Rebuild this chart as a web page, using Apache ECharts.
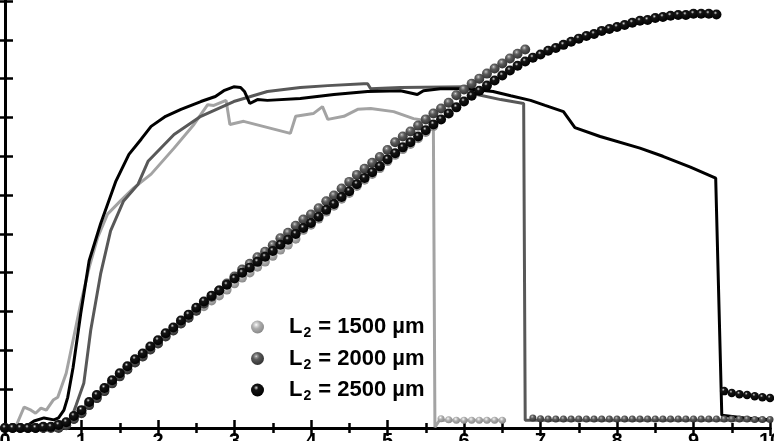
<!DOCTYPE html>
<html>
<head>
<meta charset="utf-8">
<script src="https://cdn.jsdelivr.net/npm/echarts@6/dist/echarts.min.js"></script>
<style>
  html, body { margin: 0; padding: 0; background: #fff; }
  #chart { width: 774px; height: 441px; }
</style>
</head>
<body>
<div id="chart"></div>
<script>
// x ticks and y range (y labels are cropped off in the reference)
const xTicks = [0, 1, 2, 3, 4, 5, 6, 7, 8, 9, 10];
const yMax = 11;

// spheres, sampled every 0.1 along x starting at 0
const sphereStep = 0.1;
const spheres1500 = [
  0, 0, 0, 0, 0, 0.03, 0.03, 0.08, 0.15, 0.23,
  0.38, 0.59, 0.77, 0.95, 1.15, 1.33, 1.51, 1.69, 1.84, 2.02,
  2.18, 2.36, 2.51, 2.69, 2.84, 3.02, 3.13, 3.28, 3.41, 3.56,
  3.72, 3.87, 4.00, 4.15, 4.28, 4.43, 4.59, 4.72, 4.87, 5.10,
  5.23, 5.39, 5.57, 5.72, 5.90, 6.05, 6.23, 6.39, 6.54, 6.69,
  6.87, 7.03, 7.18, 7.31, 7.46, 7.62, 7.77
];
const spheres2000 = [
  0, 0, 0, 0, 0, 0, 0, 0, 0.07, 0.23,
  0.38, 0.59, 0.77, 0.95, 1.15, 1.33, 1.51, 1.69, 1.84, 2.02,
  2.18, 2.36, 2.51, 2.69, 2.84, 3.02, 3.21, 3.38, 3.54, 3.72,
  3.90, 4.08, 4.23, 4.40, 4.54, 4.71, 4.89, 5.03, 5.21, 5.37,
  5.50, 5.66, 5.84, 5.99, 6.17, 6.34, 6.52, 6.68, 6.83, 6.98,
  7.16, 7.36, 7.51, 7.64, 7.79, 7.95, 8.10, 8.23, 8.38, 8.57,
  8.72, 8.87, 9.00, 9.13, 9.26, 9.39, 9.52, 9.64, 9.75
];
const spheres2500 = [
  0, 0, 0, 0, 0, 0.03, 0.03, 0.08, 0.15, 0.31,
  0.46, 0.67, 0.85, 1.03, 1.23, 1.41, 1.59, 1.77, 1.92, 2.10,
  2.26, 2.44, 2.59, 2.77, 2.92, 3.10, 3.26, 3.41, 3.54, 3.69,
  3.85, 4.00, 4.13, 4.28, 4.41, 4.56, 4.72, 4.85, 5.00, 5.15,
  5.28, 5.44, 5.62, 5.77, 5.95, 6.10, 6.28, 6.44, 6.59, 6.74,
  6.92, 7.08, 7.23, 7.36, 7.51, 7.67, 7.82, 7.95, 8.10, 8.26,
  8.41, 8.56, 8.69, 8.82, 8.95, 9.08, 9.21, 9.33, 9.44, 9.54,
  9.62, 9.72, 9.79, 9.87, 9.95, 10.03, 10.10, 10.15, 10.23, 10.28,
  10.33, 10.38, 10.44, 10.49, 10.51, 10.56, 10.59, 10.62, 10.64, 10.64,
  10.67, 10.67, 10.67, 10.65
];

// spheres after the drop (start x, then every 0.1)
const tailStart1500 = 5.7;
const tail1500 = [0.24, 0.21, 0.20, 0.20, 0.20, 0.20, 0.20, 0.20, 0.20];
const tailStart2000 = 6.9;
const tail2000 = [
  0.26, 0.24, 0.23, 0.23, 0.23, 0.23, 0.23, 0.23, 0.23, 0.23,
  0.23, 0.23, 0.23, 0.23, 0.23, 0.23, 0.23, 0.23, 0.23, 0.23,
  0.23, 0.23, 0.23, 0.23, 0.23, 0.23, 0.23, 0.23, 0.23, 0.22,
  0.22, 0.22
];
const tailStart2500 = 9.4;
const tail2500 = [0.95, 0.90, 0.87, 0.85, 0.82, 0.79, 0.77];

// solid curves as [x, y]
const line1500 = [
  [0, 0], [0.14, 0.03], [0.25, 0.54], [0.34, 0.46], [0.40, 0.38], [0.47, 0.51],
  [0.54, 0.46], [0.63, 0.72], [0.69, 0.79], [0.80, 1.41], [0.89, 2.26], [0.99, 3.21],
  [1.10, 4.13], [1.21, 4.90], [1.34, 5.51], [1.51, 5.85], [1.68, 6.18], [1.91, 6.54],
  [2.21, 7.21], [2.47, 7.82], [2.65, 8.33], [2.73, 8.31], [2.89, 8.44], [2.94, 7.82],
  [3.12, 7.90], [3.73, 7.59], [3.80, 8.03], [4.03, 8.10], [4.15, 8.28], [4.22, 7.95],
  [4.43, 8.03], [4.61, 8.21], [4.78, 8.23], [5.08, 8.15], [5.34, 7.97], [5.56, 7.90],
  [5.60, 7.64], [5.62, 0.02], [5.68, 0.20], [6.55, 0.20]
];
const line2000 = [
  [0, 0], [0.73, 0.03], [0.86, 0.21], [0.93, 0.59], [1.03, 1.15], [1.12, 2.51],
  [1.25, 3.97], [1.38, 5.08], [1.55, 5.85], [1.74, 6.28], [1.87, 6.87], [2.21, 7.56],
  [2.56, 8.03], [2.99, 8.41], [3.43, 8.67], [3.86, 8.77], [4.22, 8.82], [4.69, 8.87],
  [4.74, 8.87], [4.78, 8.74], [5.17, 8.77], [6.04, 8.79], [6.17, 8.59], [6.48, 8.46],
  [6.78, 8.36], [6.80, 0.20], [10, 0.20]
];
const line2500 = [
  [0, 0], [0.27, 0.03], [0.38, 0.18], [0.51, 0.26], [0.64, 0.21], [0.70, 0.26],
  [0.77, 0.46], [0.82, 0.79], [0.89, 1.56], [0.99, 2.95], [1.10, 4.31], [1.25, 5.26],
  [1.45, 6.36], [1.62, 7.05], [1.78, 7.44], [1.91, 7.77], [2.10, 8.03], [2.30, 8.21],
  [2.56, 8.41], [2.75, 8.54], [2.86, 8.69], [2.99, 8.79], [3.08, 8.77], [3.13, 8.67],
  [3.20, 8.36], [3.30, 8.46], [3.43, 8.44], [3.86, 8.49], [4.30, 8.59], [4.74, 8.67],
  [5.17, 8.69], [5.39, 8.59], [5.47, 8.69], [5.69, 8.74], [6.04, 8.74], [6.38, 8.67],
  [6.61, 8.56], [6.87, 8.44], [7.06, 8.31], [7.30, 8.15], [7.45, 7.74], [7.78, 7.51],
  [8.30, 7.21], [8.60, 7.00], [8.96, 6.72], [9.29, 6.44], [9.37, 0.33], [9.67, 0.26],
  [10, 0.21]
];

const names = ['L2 = 1500 µm', 'L2 = 2000 µm', 'L2 = 2500 µm'];
const lineColors = ['#a3a3a3', '#585858', '#000000'];

const chart = echarts.init(document.getElementById('chart'));

function sampled(start, values) {
  return values.map((v, i) => [+(start + i * sphereStep).toFixed(2), v]);
}

function ball(stops) {
  return {
    type: 'radial', x: 0.4, y: 0.33, r: 0.68,
    colorStops: stops.map(([offset, color]) => ({ offset, color })),
  };
}

// glossy balls: small highlight, dark body
const ballColors = [
  ball([[0, '#ffffff'], [0.15, '#dcdcdc'], [0.45, '#ababab'], [1, '#888888']]),
  ball([[0, '#e6e6e6'], [0.12, '#9a9a9a'], [0.38, '#5a5a5a'], [1, '#303030']]),
  ball([[0, '#e8e8e8'], [0.1, '#8a8a8a'], [0.26, '#151515'], [1, '#000000']]),
];

function lineSeries(data, i) {
  return {
    type: 'line', data, showSymbol: false, z: 2,
    lineStyle: { color: lineColors[i], width: 3 },
    silent: true,
  };
}

function sphereSeries(data, i, size) {
  return {
    type: 'scatter', name: names[i], data, symbol: 'circle', symbolSize: size, z: 3 + i,
    itemStyle: { color: ballColors[i], opacity: 1 },
  };
}

const axisFrame = {
  axisLine: { lineStyle: { color: '#000', width: 3 } },
  axisTick: { inside: true, length: 8, lineStyle: { color: '#000', width: 2.5 } },
  splitLine: { show: false },
};

const option = {
  backgroundColor: '#fff',
  animation: false,
  grid: { left: 5, right: 4, top: 1, bottom: 13, outerBoundsMode: 'none', containLabel: false },
  legend: {
    data: names,
    orient: 'vertical',
    left: 246,
    top: 311,
    itemGap: 7,
    itemWidth: 13,
    itemHeight: 13,
    icon: 'circle',
    formatter: (name) => '{n|L}{s|2}{n|' + name.slice(2) + '}',
    textStyle: {
      fontFamily: 'Liberation Sans',
      fontWeight: 'bold',
      fontSize: 22,
      color: '#000',
      padding: [0, 0, 0, 20],
      rich: {
        n: { fontFamily: 'Liberation Sans', fontWeight: 'bold', fontSize: 22, color: '#000' },
        s: { fontFamily: 'Liberation Sans', fontWeight: 'bold', fontSize: 14, color: '#000', padding: [13, 1, 0, 1] },
      },
    },
  },
  xAxis: [
    {
      type: 'value', min: 0, max: 10, interval: 1, position: 'bottom',
      ...axisFrame,
      minorTick: { show: true, splitNumber: 2, length: 5, lineStyle: { color: '#000', width: 2.5 } },
      axisLabel: {
        margin: 3, showMinLabel: true, showMaxLabel: true,
        fontFamily: 'Liberation Sans', fontWeight: 'bold', fontSize: 20, color: '#000',
        formatter: (v) => (xTicks.includes(v) ? String(v) : ''),
      },
    },
    {
      type: 'value', min: 0, max: 10, interval: 1, position: 'top',
      ...axisFrame,
      minorTick: { show: true, splitNumber: 2, length: 5, lineStyle: { color: '#000', width: 2.5 } },
      axisLabel: { show: false },
    },
  ],
  yAxis: [
    { type: 'value', min: 0, max: yMax, interval: 1, position: 'left', ...axisFrame, axisLabel: { show: false } },
    { type: 'value', min: 0, max: yMax, interval: 1, position: 'right', ...axisFrame, axisLabel: { show: false } },
  ],
  series: [
    lineSeries(line1500, 0),
    lineSeries(line2000, 1),
    lineSeries(line2500, 2),
    sphereSeries(sampled(0, spheres1500), 0, 9.5),
    sphereSeries(sampled(tailStart1500, tail1500), 0, 7),
    sphereSeries(sampled(0, spheres2000), 1, 10),
    sphereSeries(sampled(tailStart2000, tail2000), 1, 7),
    sphereSeries(sampled(0, spheres2500), 2, 10),
    sphereSeries(sampled(tailStart2500, tail2500), 2, 8.5),
  ],
};

chart.setOption(option);
</script>
</body>
</html>
